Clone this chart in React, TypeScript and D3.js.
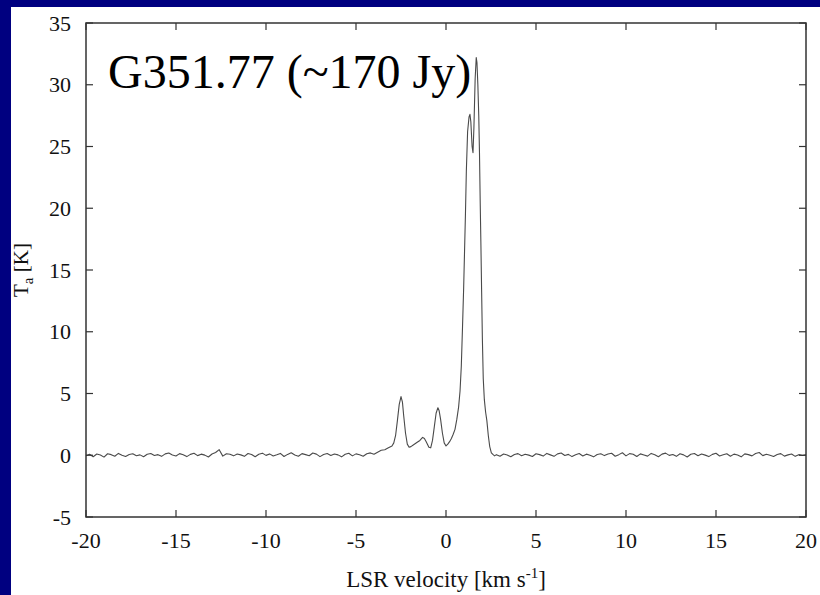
import React from "react";
import * as d3 from "d3";

const W = 820;
const H = 595;

const xTicks = [-20, -15, -10, -5, 0, 5, 10, 15, 20];
const yTicks = [-5, 0, 5, 10, 15, 20, 25, 30, 35];

// baseline channel grid (km/s)
const leftStart = -20;
const rightStart = 2.8;
const channelStep = 0.2;

// measured baseline noise, left of the emission (K)
const leftBaseline = [
  -0.05, 0.08, -0.12, 0.1, 0.02, -0.15, 0.12, 0.05, -0.08, 0.15,
  0.0, -0.1, 0.06, 0.12, -0.04, 0.03, -0.12, 0.08, 0.14, -0.02,
  0.05, -0.09, 0.11, 0.18, 0.02, -0.06, 0.13, 0.04, -0.11, 0.07,
  0.16, -0.03, 0.09, 0.01, -0.14, 0.1, 0.22, 0.45, -0.07, 0.12,
  0.08, -0.05, 0.1, 0.03, -0.09, 0.14, 0.06, -0.12, 0.08, 0.17,
  -0.01, 0.11, -0.06, 0.04, 0.15, -0.1, 0.07, 0.2, 0.02, -0.08,
  0.13, 0.05, -0.04, 0.18, 0.09, -0.11, 0.06, 0.14, -0.02, 0.1,
  0.03, -0.13, 0.08, 0.16, -0.05, 0.11, 0.04, -0.08, 0.12, 0.19,
  0.08, 0.25, 0.4,
];

// emission region [velocity, Ta]
const emission: [number, number][] = [
  [-3.4, 0.45], [-3.2, 0.6], [-3.0, 0.75], [-2.9, 1.0], [-2.8, 1.6],
  [-2.7, 2.8], [-2.6, 4.1], [-2.5, 4.75], [-2.42, 4.3], [-2.35, 3.2],
  [-2.25, 1.8], [-2.15, 0.9], [-2.05, 0.65], [-1.95, 0.7], [-1.8, 0.85],
  [-1.6, 1.05], [-1.45, 1.2], [-1.3, 1.45], [-1.2, 1.35], [-1.1, 1.1],
  [-0.95, 0.65], [-0.85, 0.6], [-0.75, 1.2], [-0.65, 2.3], [-0.55, 3.4],
  [-0.45, 3.85], [-0.38, 3.6], [-0.3, 2.9], [-0.2, 1.8], [-0.1, 1.0],
  [0.0, 0.75], [0.1, 0.9], [0.2, 1.1], [0.3, 1.35], [0.4, 1.7],
  [0.5, 2.1], [0.6, 2.9], [0.7, 3.9], [0.78, 5.2], [0.85, 7.2],
  [0.92, 10.5], [0.98, 13.5], [1.03, 16.5], [1.08, 19.5], [1.13, 23.0],
  [1.2, 26.2], [1.28, 27.4], [1.33, 27.6], [1.38, 27.0], [1.45, 25.0],
  [1.5, 24.5], [1.55, 26.5], [1.62, 30.5], [1.68, 32.2], [1.72, 31.8],
  [1.77, 30.0], [1.82, 27.5], [1.86, 24.5], [1.9, 20.5], [1.94, 17.0],
  [1.98, 13.2], [2.02, 9.5], [2.07, 6.2], [2.13, 4.5], [2.2, 3.5],
  [2.27, 2.8], [2.35, 1.6], [2.43, 0.7], [2.52, 0.2], [2.62, 0.05],
  [2.7, -0.05],
];

// measured baseline noise, right of the emission (K)
const rightBaseline = [
  0.05, -0.08, 0.1, 0.02, -0.12, 0.06, 0.13, -0.04, 0.08, 0.01,
  -0.1, 0.12, 0.05, -0.07, 0.15, 0.03, -0.09, 0.11, 0.18, -0.02,
  0.07, -0.11, 0.04, 0.14, -0.06, 0.09, 0.0, -0.13, 0.06, 0.12,
  -0.03, 0.1, 0.16, -0.08, 0.05, 0.2, -0.05, 0.13, 0.08, -0.1,
  0.11, 0.02, -0.07, 0.15, 0.04, -0.12, 0.09, 0.17, -0.01, 0.06,
  -0.09, 0.12, 0.03, -0.14, 0.08, 0.14, -0.04, 0.1, 0.01, -0.11,
  0.07, 0.16, -0.06, 0.04, 0.12, -0.08, 0.09, 0.02, -0.13, 0.11,
  0.05, -0.05, 0.14, 0.22, -0.03, 0.08, 0.0, -0.1, 0.06, 0.13,
  -0.07, 0.03, 0.1, -0.09, 0.05, -0.02, 0.04,
];

const spectrum: [number, number][] = [
  ...leftBaseline.map((t, i) => [leftStart + i * channelStep, t] as [number, number]),
  ...emission,
  ...rightBaseline.map((t, i) => [rightStart + i * channelStep, t] as [number, number]),
];

const L = 86, R = 806, T = 23, B = 517;

export default function App() {
  const x = d3.scaleLinear().domain([-20, 20]).range([L, R]);
  const y = d3.scaleLinear().domain([-5, 35]).range([B, T]);
  const line = d3
    .line<[number, number]>()
    .x((d) => x(d[0]))
    .y((d) => y(d[1]));
  const font = "'Liberation Serif', 'Times New Roman', serif";
  const axisColor = "#333";
  const tickLen = 7;
  return (
    <div style={{ position: "fixed", left: 0, top: 0 }}>
      <svg width={W} height={H} style={{ display: "block" }}>
        <rect x={0} y={0} width={W} height={H} fill="#000080" />
        <rect x={11} y={7} width={W - 11} height={H - 7} fill="#ffffff" />
        <path
          d={line(spectrum) || ""}
          fill="none"
          stroke="#4a4a4a"
          strokeWidth={1.1}
          strokeLinejoin="round"
        />
        {/* frame */}
        <rect x={L} y={T} width={R - L} height={B - T} fill="none" stroke={axisColor} strokeWidth={1.5} />
        {xTicks.map((t) => (
          <g key={"x" + t}>
            <line x1={x(t)} x2={x(t)} y1={B} y2={B - tickLen} stroke={axisColor} strokeWidth={1.2} />
            <line x1={x(t)} x2={x(t)} y1={T} y2={T + tickLen} stroke={axisColor} strokeWidth={1.2} />
            <text
              x={x(t)}
              y={548}
              textAnchor="middle"
              fontFamily={font}
              fontSize={22}
              fill="#111"
            >
              {t}
            </text>
          </g>
        ))}
        {yTicks.map((t) => (
          <g key={"y" + t}>
            <line x1={L} x2={L + tickLen} y1={y(t)} y2={y(t)} stroke={axisColor} strokeWidth={1.2} />
            <line x1={R} x2={R - tickLen} y1={y(t)} y2={y(t)} stroke={axisColor} strokeWidth={1.2} />
            <text
              x={71}
              y={y(t)}
              dy="0.35em"
              textAnchor="end"
              fontFamily={font}
              fontSize={22}
              fill="#111"
            >
              {t}
            </text>
          </g>
        ))}
        <text
          x={(L + R) / 2}
          y={587}
          textAnchor="middle"
          fontFamily={font}
          fontSize={23}
          fill="#111"
        >
          LSR velocity [km s
          <tspan dy={-9} fontSize={15}>-1</tspan>
          <tspan dy={9}>]</tspan>
        </text>
        <text
          transform={`translate(28, ${(T + B) / 2}) rotate(-90)`}
          textAnchor="middle"
          fontFamily={font}
          fontSize={21}
          fill="#111"
        >
          T<tspan dy={5} fontSize={15}>a</tspan>
          <tspan dy={-5}> [K]</tspan>
        </text>
        <text x={108} y={88} fontFamily={font} fontSize={48} fill="#000">
          G351.77 (~170 Jy)
        </text>
      </svg>
    </div>
  );
}
